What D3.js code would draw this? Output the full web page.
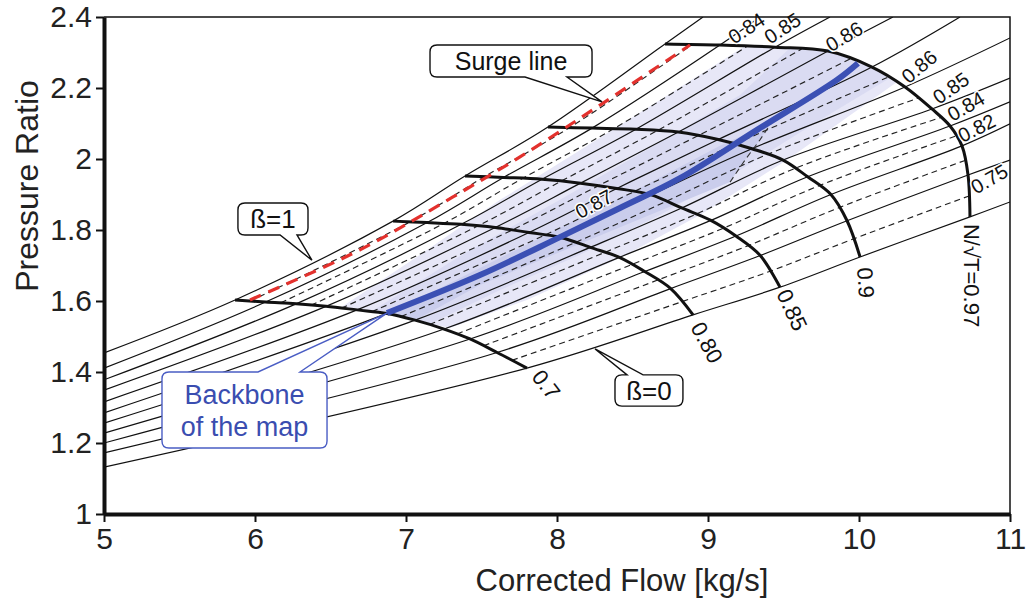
<!DOCTYPE html>
<html><head><meta charset="utf-8">
<script src="https://cdn.jsdelivr.net/npm/d3@7"></script>
<style>
body{margin:0;background:#fff}
svg{display:block}
text{font-family:"Liberation Sans",Arial,sans-serif}
</style>
</head><body>
<svg id="c" width="1026" height="601"></svg>
<script>
// ---------------- DATA ----------------
const xTicks = [5, 6, 7, 8, 9, 10, 11];
const yTicks = [1, 1.2, 1.4, 1.6, 1.8, 2, 2.2, 2.4];
const yTickLabels = ["1", "1.2", "1.4", "1.6", "1.8", "2", "2.2", "2.4"];
const xTitle = "Corrected Flow [kg/s]";
const yTitle = "Pressure Ratio";

// speed lines: points at beta = 1, 0.9, ... 0  [corrected flow, pressure ratio]
const speedNames = ["0.7", "0.80", "0.85", "0.9", "N/\u221AT=0.97"];
const speedLine070 = [[5.868,1.603],[6.070,1.597],[6.272,1.592],[6.470,1.585],[6.676,1.575],[6.874,1.565],[7.060,1.546],[7.252,1.521],[7.424,1.493],[7.603,1.455],[7.801,1.411]];
const speedLine080 = [[6.914,1.825],[7.140,1.821],[7.366,1.816],[7.591,1.807],[7.815,1.793],[8.026,1.779],[8.220,1.751],[8.413,1.723],[8.581,1.683],[8.753,1.635],[8.901,1.561]];
const speedLine085 = [[7.391,1.952],[7.646,1.948],[7.901,1.943],[8.156,1.932],[8.396,1.917],[8.624,1.899],[8.826,1.862],[9.019,1.827],[9.185,1.783],[9.346,1.728],[9.477,1.639]];
const speedLine090 = [[7.940,2.090],[8.232,2.087],[8.523,2.084],[8.804,2.076],[9.068,2.055],[9.291,2.029],[9.497,1.997],[9.660,1.950],[9.814,1.900],[9.921,1.826],[10.007,1.724]];
const speedLine097 = [[8.715,2.324],[9.079,2.321],[9.444,2.315],[9.795,2.304],[10.086,2.259],[10.305,2.203],[10.483,2.141],[10.603,2.093],[10.682,2.037],[10.722,1.955],[10.735,1.837]];

// beta line extensions: left edge of the map and where they leave the frame
const betaLeftEdge = [[5,1.454],[5,1.411],[5,1.378],[5,1.349],[5,1.316],[5,1.285],[5,1.256],[5,1.228],[5,1.200],[5,1.172],[5,1.132]];
const betaFrameEnd = [[8.967,2.4],[9.344,2.4],[9.808,2.4],[10.225,2.4],[10.669,2.4],[11,2.341],[11,2.228],[11,2.161],[11,2.099],[11,1.997],[11,1.879]];

// intermediate (dashed) beta lines at each speed
const dash070 = [[5.969,1.600],[6.171,1.595],[6.371,1.588],[6.573,1.580],[6.775,1.570],[6.967,1.556],[7.156,1.534],[7.338,1.507],[7.514,1.474],[7.702,1.433]];
const dash080 = [[7.027,1.823],[7.253,1.819],[7.479,1.812],[7.703,1.800],[7.921,1.786],[8.123,1.765],[8.317,1.737],[8.497,1.703],[8.667,1.659],[8.827,1.598]];
const dash085 = [[7.519,1.950],[7.774,1.946],[8.029,1.938],[8.276,1.925],[8.510,1.908],[8.725,1.881],[8.923,1.845],[9.102,1.805],[9.266,1.756],[9.412,1.684]];
const dash090 = [[8.086,2.089],[8.378,2.086],[8.664,2.080],[8.936,2.066],[9.180,2.042],[9.394,2.013],[9.579,1.974],[9.737,1.925],[9.868,1.863],[9.964,1.775]];
const dash097 = [[8.897,2.323],[9.262,2.318],[9.620,2.310],[9.941,2.282],[10.196,2.231],[10.394,2.172],[10.543,2.117],[10.643,2.065],[10.702,1.996],[10.729,1.896]];

const surgeLine = [[5.967,1.603],[6.695,1.744],[7.311,1.893],[7.755,2.006],[8.285,2.152],[8.881,2.321]];
const backbone = [[6.874,1.566],[7.490,1.673],[8.020,1.780],[8.417,1.862],[8.815,1.946],[9.325,2.082],[9.854,2.223],[9.993,2.270]];

// efficiency islands
const islandLight = [[6.563,1.580],[7.093,1.730],[7.623,1.885],[8.152,2.025],[8.682,2.166],[9.245,2.318],[9.444,2.315],[9.795,2.304],[10.086,2.259],[10.252,2.217],[9.523,1.997],[8.947,1.842],[8.417,1.721],[7.801,1.603],[7.291,1.524],[7.060,1.546],[6.874,1.565],[6.676,1.575]];
const islandMedium = [[6.775,1.572],[7.424,1.744],[8.020,1.885],[8.616,2.031],[9.212,2.180],[9.543,2.313],[9.795,2.304],[10.086,2.259],[10.205,2.228],[9.742,2.110],[9.212,1.969],[8.682,1.842],[8.152,1.730],[7.623,1.631],[7.159,1.535],[7.060,1.546],[6.874,1.565]];
const islandDark = [[6.894,1.566],[7.490,1.693],[8.020,1.806],[8.550,1.918],[9.079,2.037],[9.424,2.104],[9.344,2.054],[9.245,1.997],[9.146,1.935],[8.550,1.831],[8.020,1.738],[7.490,1.645],[7.060,1.546]];
const islandEdge = [[9.146,1.935],[9.245,1.997],[9.344,2.054],[9.424,2.104]];

// efficiency labels on the top speed line and on the backbone
const effLabels = ["0.84","0.85","0.86","0.86","0.85","0.84","0.82","0.75","0.87"];
const effAnchors = [[9.172,2.322],[9.410,2.322],[9.815,2.300],[10.330,2.210],[10.530,2.152],[10.620,2.104],[10.686,2.045],[10.775,1.899],[8.152,1.830]];

// callouts
const calloutText = [["Surge line"], ["\u00DF=1"], ["\u00DF=0"], ["Backbone", "of the map"]];
const calloutBox = [[7.159,8.232,2.321,2.231],[5.887,6.351,1.876,1.786],[8.384,8.834,1.392,1.304],[5.384,6.477,1.400,1.186]];
const calloutBase = [[7.788,8.066],[6.166,6.278],[8.464,8.570],[6.020,6.298]];
const calloutTip = [[8.298,2.161],[6.377,1.715],[8.252,1.465],[6.874,1.566]];

// label anchors of speed lines
const speedLabelAnchors = [[7.860,1.397],[8.920,1.535],[9.490,1.628],[9.987,1.693],[10.695,1.817]];

// ---------------- LAYOUT / STYLE ----------------
const effAngles = [-33,-33,-31,-40,-35,-30,-27,-30,-28];
const effSizes = [20,20,20,20,20,20,20,20,20];
const speedAngles = [52,62,65,86,90];
const speedDy = ["0.3em","0.3em","0.3em","0em","0em"];
const calloutSide = ["bottom","bottom","top","top"];
const calloutColor = ["#111","#111","#111","#3a4db0"];
const calloutFont = [25,26,26,27];

const svg = d3.select("#c");
const x = d3.scaleLinear().domain([5, 11]).range([104, 1010]);
const y = d3.scaleLinear().domain([1, 2.4]).range([514, 17]);

svg.append("defs").append("clipPath").attr("id","plot")
  .append("rect").attr("x",104).attr("y",17).attr("width",906).attr("height",497);

const plot = svg.append("g").attr("clip-path","url(#plot)");
const curve = d3.line().x(d=>x(d[0])).y(d=>y(d[1])).curve(d3.curveCatmullRom.alpha(0.5));
const closed = d3.line().x(d=>x(d[0])).y(d=>y(d[1])).curve(d3.curveLinearClosed);

// islands
plot.append("path").attr("d", closed(islandLight)).attr("fill","#e7e7f7");
plot.append("path").attr("d", closed(islandMedium)).attr("fill","#dadbf2");
plot.append("path").attr("d", closed(islandDark)).attr("fill","#cacdec");

const speedLines = [speedLine070, speedLine080, speedLine085, speedLine090, speedLine097];
const dashLines = [dash070, dash080, dash085, dash090, dash097];

// solid beta lines
const betaLines = betaLeftEdge.map((p, j) => [p, ...speedLines.map(s => s[j]), betaFrameEnd[j]]);
plot.selectAll("path.beta").data(betaLines).join("path").attr("class","beta")
  .attr("d", curve).attr("fill","none").attr("stroke","#111").attr("stroke-width",1.2);

// dashed beta lines
const dashBeta = dash070.map((p, j) => dashLines.map(s => s[j]));
plot.selectAll("path.dbeta").data(dashBeta).join("path").attr("class","dbeta")
  .attr("d", curve).attr("fill","none").attr("stroke","#222").attr("stroke-width",1.15)
  .attr("stroke-dasharray","6,4");

plot.append("path").attr("d", d3.line().x(d=>x(d[0])).y(d=>y(d[1]))(islandEdge))
  .attr("fill","none").attr("stroke","#333").attr("stroke-width",1.1).attr("stroke-dasharray","6,4");

// speed lines
plot.selectAll("path.speed").data(speedLines).join("path").attr("class","speed")
  .attr("d", curve).attr("fill","none").attr("stroke","#111").attr("stroke-width",3);

// surge line
plot.append("path").attr("d", curve(surgeLine)).attr("fill","none")
  .attr("stroke","#e3312d").attr("stroke-width",3.2).attr("stroke-dasharray","12,8");

// backbone
plot.append("path").attr("d", curve(backbone)).attr("fill","none")
  .attr("stroke","#3b50b4").attr("stroke-width",6).attr("stroke-linecap","butt");

// efficiency labels
svg.selectAll("text.eff").data(effLabels).join("text").attr("class","eff")
  .attr("transform",(d,i)=>`translate(${x(effAnchors[i][0])},${y(effAnchors[i][1])}) rotate(${effAngles[i]})`)
  .attr("font-size",(d,i)=>effSizes[i]).attr("fill","#111")
  .attr("stroke","#fff").attr("stroke-width",3).attr("paint-order","stroke")
  .text(d=>d);

// speed labels
svg.selectAll("text.spd").data(speedNames).join("text").attr("class","spd")
  .attr("transform",(d,i)=>`translate(${x(speedLabelAnchors[i][0])},${y(speedLabelAnchors[i][1])}) rotate(${speedAngles[i]})`)
  .attr("dy",(d,i)=>speedDy[i]).attr("font-size",22).attr("fill","#111")
  .attr("stroke","#fff").attr("stroke-width",3).attr("paint-order","stroke")
  .text(d=>d);

// callouts
calloutText.forEach((lines, i) => {
  const [bx0,bx1,byt,byb] = calloutBox[i];
  const X0=x(bx0), X1=x(bx1), YT=y(byt), YB=y(byb), r=7;
  const B0=x(calloutBase[i][0]), B1=x(calloutBase[i][1]);
  const TX=x(calloutTip[i][0]), TY=y(calloutTip[i][1]);
  let d;
  if (calloutSide[i]==="bottom") {
    d = `M${X0+r},${YT} H${X1-r} Q${X1},${YT} ${X1},${YT+r} V${YB-r} Q${X1},${YB} ${X1-r},${YB} H${B1} L${TX},${TY} L${B0},${YB} H${X0+r} Q${X0},${YB} ${X0},${YB-r} V${YT+r} Q${X0},${YT} ${X0+r},${YT} Z`;
  } else {
    d = `M${X0+r},${YT} H${B0} L${TX},${TY} L${B1},${YT} H${X1-r} Q${X1},${YT} ${X1},${YT+r} V${YB-r} Q${X1},${YB} ${X1-r},${YB} H${X0+r} Q${X0},${YB} ${X0},${YB-r} V${YT+r} Q${X0},${YT} ${X0+r},${YT} Z`;
  }
  svg.append("path").attr("d", d).attr("fill","#fff")
    .attr("stroke", i===3 ? "#4a5dc4" : "#111").attr("stroke-width",1.4);
  const cx=(X0+X1)/2, cy=(YT+YB)/2, fs=calloutFont[i], lh=fs*1.18;
  lines.forEach((t, k) => {
    svg.append("text").attr("x",cx).attr("y", cy + (k-(lines.length-1)/2)*lh).attr("dy","0.36em")
      .attr("text-anchor","middle").attr("font-size",fs).attr("fill",calloutColor[i]).text(t);
  });
});

// frame
svg.append("path").attr("d",`M104,17 H1010 V514`).attr("fill","none").attr("stroke","#111").attr("stroke-width",1.5);

// axes
const yAxis = svg.append("g").attr("transform","translate(104,0)")
  .call(d3.axisLeft(y).tickValues(yTicks).tickFormat((d,i)=>yTickLabels[i]).tickSize(8).tickSizeOuter(0));
const xAxis = svg.append("g").attr("transform","translate(0,514)")
  .call(d3.axisBottom(x).tickValues(xTicks).tickFormat(d3.format("d")).tickSize(8).tickSizeOuter(0));
[yAxis, xAxis].forEach(a => {
  a.select(".domain").attr("stroke","#111").attr("stroke-width",4);
  a.selectAll(".tick line").attr("stroke","#111").attr("stroke-width",2);
  a.selectAll(".tick text").attr("font-size",30).attr("fill","#222")
   .attr("font-family","'Liberation Sans',Arial,sans-serif");
});
yAxis.selectAll(".tick text").attr("x",-12);
xAxis.selectAll(".tick text").attr("y",14);

svg.append("text").attr("x",622).attr("y",591).attr("text-anchor","middle")
  .attr("font-size",31).attr("fill","#222").text(xTitle);
svg.append("text").attr("transform","translate(38,186) rotate(-90)").attr("text-anchor","middle")
  .attr("font-size",32).attr("fill","#222").text(yTitle);
</script>
</body></html>
